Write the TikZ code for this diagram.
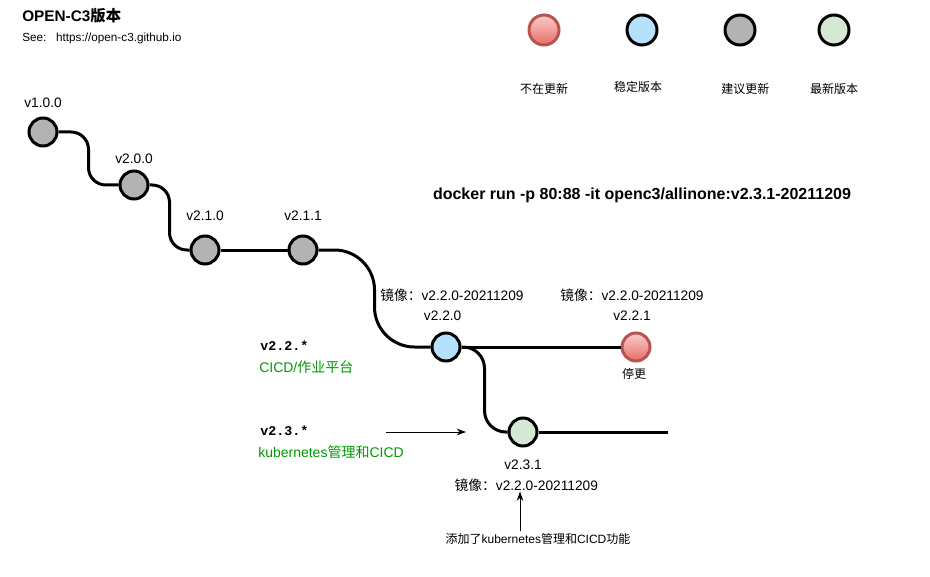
\documentclass[tikz,border=0pt]{standalone}
\usepackage{fontspec}
\setmainfont{Liberation Sans}
\setmonofont{Liberation Mono}
\newfontfamily\cjk{Noto Sans CJK SC}
\usetikzlibrary{positioning, arrows.meta, calc}

\definecolor{verGray}{HTML}{B3B3B3}
\definecolor{verBlue}{HTML}{B5E1FC}
\definecolor{verGreen}{HTML}{D5E8D4}
\definecolor{stopRed}{HTML}{B85450}
\definecolor{stopTop}{HTML}{F8CECC}
\definecolor{stopBot}{HTML}{EA6B66}
\definecolor{noteGreen}{HTML}{009900}

\newcommand{\mirrortxt}{{\cjk 镜像：}v2.2.0-20211209}

\begin{document}
\begin{tikzpicture}[
  x=0.75pt, y=-0.75pt,
  ver/.style={circle, draw=black, line width=2.25pt, minimum size=21pt, inner sep=0pt},
  old/.style={ver, fill=verGray},
  stable/.style={ver, fill=verBlue},
  latest/.style={ver, fill=verGreen},
  stopped/.style={ver, draw=stopRed, top color=stopTop, bottom color=stopBot},
  legendver/.style={minimum size=22.5pt},
  vlabel/.style={font=\fontsize{10.3}{12}\selectfont, inner sep=1pt, text height=8pt, text depth=2pt},
  small/.style={font=\fontsize{9}{11}\selectfont, inner sep=1pt, text height=8pt, text depth=2pt},
  note/.style={font=\fontsize{10.5}{12}\selectfont, text=noteGreen, inner sep=0pt, anchor=west},
  series/.style={font=\fontsize{10}{12}\selectfont\ttfamily\bfseries, inner sep=0pt, anchor=west},
  branch/.style={line width=2.25pt, rounded corners=13pt},
  pointer/.style={line width=0.75pt, -{Stealth[length=7pt, width=5pt]}},
  >=Stealth
]
\useasboundingbox (0,0) rectangle (930,577);

% Title
\node[anchor=west, inner sep=0pt, font=\fontsize{11.5}{13}\selectfont\bfseries] (title) at (22,16) {OPEN-C3{\cjk 版本}};
\node[inner sep=0pt, font=\fontsize{8.8}{11}\selectfont, below=17pt of title.west, anchor=west] (see) {See:\ \ \ https://open-c3.github.io};

% Legend
\node[stopped, legendver] (lgred) at (544,30) {};
\node[stable, legendver] (lgblue) at (642,30) {};
\node[old, legendver] (lggray) at (740,30) {};
\node[latest, legendver] (lggreen) at (834,30) {};
\node[small, below=26pt of lgred] {\cjk 不在更新};
\node[small, below=24.5pt of lgblue, xshift=-3pt] {\cjk 稳定版本};
\node[small, below=26pt of lggray, xshift=4pt] {\cjk 建议更新};
\node[small, below=26pt of lggreen] {\cjk 最新版本};

% Versions
\node[old] (v100) at (43,132) {};
\node[old] (v200) at (134,185) {};
\node[old] (v210) at (205,250) {};
\node[old] (v211) at (303,250) {};
\node[stable] (v220) at (446,347) {};
\node[stopped] (v221) at (636,347) {};
\node[latest] (v231) at (523,432) {};
\coordinate (tail231) at (668,432);

\node[vlabel, above=3.5pt of v100] (l100) {v1.0.0};
\node[vlabel, above=1pt of v200] (l200) {v2.0.0};
\node[vlabel, above=7.5pt of v210] (l210) {v2.1.0};
\node[vlabel, above=7.5pt of v211] (l211) {v2.1.1};
\node[vlabel, above=5pt of v220, xshift=-2.5pt] (l220) {v2.2.0};
\node[vlabel, above=5pt of v221, xshift=-3pt] (l221) {v2.2.1};
\node[vlabel, above=3pt of l220, xshift=7pt] (m220) {\mirrortxt};
\node[vlabel, above=3pt of l221] (m221) {\mirrortxt};
\node[small, below=3pt of v221, xshift=-1.5pt] (stop221) {\cjk 停更};
\node[vlabel, below=7.5pt of v231] (l231) {v2.3.1};
\node[vlabel, below=3pt of l231, xshift=2.5pt] (m231) {\mirrortxt};

% Branches (bend points halfway between the versions)
\coordinate (k1) at ($(v100)!.5!(v200)$);
\coordinate (k2) at ($(v200)!.5!(v210)$);
\coordinate (k3) at ($(v211)!.5!(v220)$);
\coordinate (k4) at ($(v220)!.5!(v231)$);
\draw[branch] (v100) -- (v100 -| k1) -- (v200 -| k1) -- (v200);
\draw[branch] (v200) -- (v200 -| k2) -- (v210 -| k2) -- (v210);
\draw[branch] (v210) -- (v211);
\draw[branch, rounded corners=30pt] (v211) -- (v211 -| k3) -- (v220 -| k3) -- (v220);
\draw[branch] (v220) -- (v221);
\draw[branch, rounded corners=16pt] (v220) -- (v220 -| k4) -- (v231 -| k4) -- (v231);
\draw[branch] (v231) -- (tail231);

% Docker command
\node[font=\fontsize{12}{14}\selectfont\bfseries] (docker) at (642,195) {docker run -p 80:88 -it openc3/allinone:v2.3.1-20211209};

% Series notes
\node[series] (s22) at (260,346) {v2.2.*};
\node[note] (s22txt) at (259,367) {CICD/{\cjk 作业平台}};
\node[series] (s23) at (260,431) {v2.3.*};
\node[note] (s23txt) at (258,452) {kubernetes{\cjk 管理和}CICD};

% Pointers
\coordinate (p23from) at (386,432);
\coordinate (p23to) at (466,432);
\draw[pointer] (p23from) -- (p23to);
\node[small] (addnote) at (538,539) {{\cjk 添加了}kubernetes{\cjk 管理和}CICD{\cjk 功能}};
\draw[pointer] (addnote.north -| 520,0) -- ($(m231.south -| 520,0)+(0,-3)$);

\end{tikzpicture}
\end{document}
